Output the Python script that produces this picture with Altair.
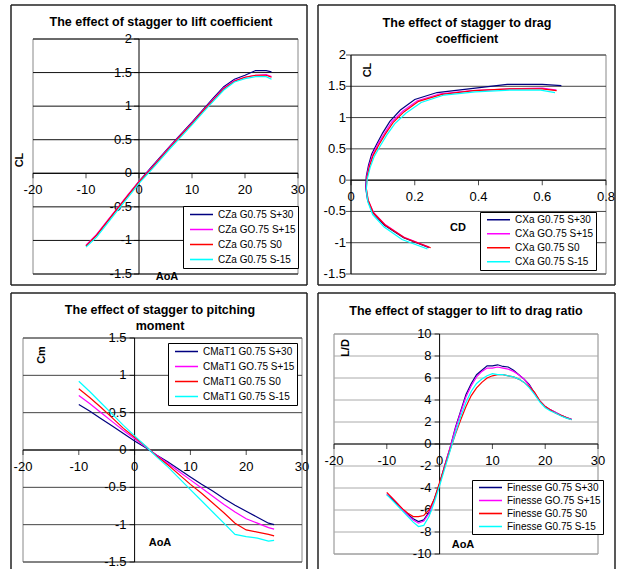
import altair as alt
import pandas as pd

FONT = "Liberation Sans"
COLORS = ["#000080", "#FF00FF", "#FF0000", "#00FFFF"]

LEGEND_CL = ["CZa G0.75 S+30", "CZa GO.75 S+15", "CZa G0.75 S0", "CZa G0.75 S-15"]
LEGEND_CD = ["CXa G0.75 S+30", "CXa GO.75 S+15", "CXa G0.75 S0", "CXa G0.75 S-15"]
LEGEND_CM = ["CMaT1 G0.75 S+30", "CMaT1 GO.75 S+15", "CMaT1 G0.75 S0", "CMaT1 G0.75 S-15"]
LEGEND_LD = ["Finesse G0.75 S+30", "Finesse GO.75 S+15", "Finesse G0.75 S0", "Finesse G0.75 S-15"]

# angle of attack samples
AOA = [-10, -8, -6, -4, -2, 0, 2, 4, 6, 8, 10, 12, 14, 16, 18, 20, 22, 24, 25]

# lift coefficient
CL_S30 = [-1.08, -0.92, -0.72, -0.52, -0.32, -0.12, 0.06, 0.24, 0.42, 0.59, 0.76, 0.94, 1.12, 1.29, 1.40, 1.46, 1.53, 1.53, 1.51]
CL_S15 = [-1.07, -0.91, -0.71, -0.51, -0.31, -0.12, 0.05, 0.23, 0.41, 0.58, 0.75, 0.93, 1.10, 1.27, 1.38, 1.43, 1.46, 1.47, 1.44]
CL_S0 = [-1.08, -0.92, -0.72, -0.52, -0.32, -0.13, 0.04, 0.22, 0.40, 0.57, 0.74, 0.92, 1.09, 1.26, 1.37, 1.43, 1.46, 1.46, 1.43]
CL_SM15 = [-1.10, -0.95, -0.75, -0.55, -0.35, -0.15, 0.02, 0.20, 0.38, 0.55, 0.72, 0.90, 1.07, 1.24, 1.36, 1.41, 1.44, 1.44, 1.40]

# drag coefficient
CD_S30 = [0.245, 0.165, 0.105, 0.068, 0.052, 0.046, 0.048, 0.055, 0.065, 0.082, 0.100, 0.122, 0.155, 0.200, 0.270, 0.370, 0.490, 0.600, 0.660]
CD_S15 = [0.245, 0.165, 0.107, 0.070, 0.053, 0.047, 0.049, 0.057, 0.068, 0.085, 0.105, 0.128, 0.162, 0.208, 0.280, 0.380, 0.500, 0.600, 0.645]
CD_S0 = [0.250, 0.168, 0.108, 0.070, 0.054, 0.048, 0.050, 0.058, 0.070, 0.088, 0.108, 0.132, 0.166, 0.212, 0.285, 0.385, 0.500, 0.600, 0.645]
CD_SM15 = [0.240, 0.160, 0.104, 0.068, 0.053, 0.048, 0.051, 0.060, 0.073, 0.092, 0.112, 0.137, 0.172, 0.220, 0.292, 0.390, 0.500, 0.595, 0.640]

# pitching moment
CM_S30 = [0.61, 0.52, 0.42, 0.32, 0.22, 0.12, 0.03, -0.07, -0.16, -0.26, -0.36, -0.46, -0.55, -0.65, -0.74, -0.82, -0.90, -0.98, -1.00]
CM_S15 = [0.73, 0.62, 0.50, 0.38, 0.26, 0.15, 0.04, -0.075, -0.18, -0.29, -0.40, -0.51, -0.62, -0.73, -0.83, -0.92, -0.98, -1.04, -1.06]
CM_S0 = [0.82, 0.70, 0.57, 0.43, 0.29, 0.17, 0.05, -0.085, -0.20, -0.33, -0.46, -0.58, -0.71, -0.84, -0.98, -1.07, -1.10, -1.13, -1.15]
CM_SM15 = [0.92, 0.78, 0.63, 0.48, 0.33, 0.19, 0.05, -0.095, -0.23, -0.38, -0.53, -0.68, -0.83, -0.98, -1.13, -1.16, -1.18, -1.22, -1.21]

# lift to drag ratio (1 degree samples)
AOA_LD = [-10, -9, -8, -7, -6, -5, -4, -3, -2, -1, 0, 1, 2, 3, 4, 5, 6, 7, 8, 9, 10, 11, 12,
          13, 14, 15, 16, 17, 18, 19, 20, 21, 22, 23, 24, 25]
LD_S30 = [-4.6, -5.0, -5.5, -6.0, -6.4, -6.8, -7.05, -6.9, -6.2, -5.0, -3.6, -1.9, -0.3, 1.5, 3.0, 4.5, 5.5, 6.3,
          6.7, 7.1, 7.1, 7.2, 7.05, 7.0, 6.7, 6.3, 5.9, 5.4, 4.6, 3.9, 3.4, 3.1, 2.85, 2.6, 2.4, 2.25]
LD_S15 = [-4.5, -4.9, -5.4, -6.0, -6.5, -6.9, -7.2, -7.0, -6.3, -5.1, -3.6, -1.9, -0.3, 1.4, 2.9, 4.3, 5.3, 6.1,
          6.6, 6.9, 6.9, 7.0, 6.9, 6.8, 6.6, 6.3, 5.9, 5.3, 4.6, 3.9, 3.4, 3.1, 2.85, 2.6, 2.4, 2.25]
LD_S0 = [-4.4, -4.9, -5.4, -5.9, -6.3, -6.6, -6.6, -6.5, -6.0, -5.0, -3.5, -2.0, -0.5, 0.9, 2.2, 3.4, 4.4, 5.1,
         5.6, 6.0, 6.2, 6.3, 6.3, 6.2, 6.1, 5.9, 5.6, 5.2, 4.7, 3.9, 3.4, 3.1, 2.8, 2.6, 2.4, 2.2]
LD_SM15 = [-4.6, -5.1, -5.6, -6.1, -6.6, -7.1, -7.5, -7.4, -6.6, -5.3, -3.8, -2.2, -0.6, 1.0, 2.5, 3.8, 4.8, 5.5,
           5.9, 6.2, 6.4, 6.3, 6.3, 6.2, 6.1, 5.9, 5.6, 5.1, 4.5, 3.8, 3.3, 3.0, 2.8, 2.55, 2.35, 2.2]

X_TICKS_AOA = [-20, -10, 0, 10, 20, 30]
Y_TICKS_CL = [-1.5, -1, -0.5, 0, 0.5, 1, 1.5, 2]
X_TICKS_CD = [0, 0.2, 0.4, 0.6, 0.8]
Y_TICKS_CM = [-1.5, -1, -0.5, 0, 0.5, 1, 1.5]
Y_TICKS_LD = [-10, -8, -6, -4, -2, 0, 2, 4, 6, 8, 10]

TOTAL_W, TOTAL_H = 618, 569


def long_df(x_vals, labels, series, y_name, extra=None):
    rows = []
    for lab, ys, ex in zip(labels, series, extra or [None] * len(labels)):
        for i, (x, y) in enumerate(zip(x_vals, ys)):
            r = {"AoA": x, y_name: y, "series": lab}
            if ex is not None:
                r["CD"] = ex[i]
            rows.append(r)
    return pd.DataFrame(rows)


def one_row():
    return alt.Data(values=[{"k": 0}])


def panel(df, xf, yf, labels, xticks, yticks, origin, size, box, title, title_pos,
          xtitle, xtitle_pos, ytitle, ytitle_pos, legend_pos, legend_row, grid_color,
          ylab_dx=-7, bottom_border=True, ordered=False):
    ox, oy = origin
    W, H = size
    px0, px1, py0, py1 = [v + o for v, o in zip(box, (ox, ox, oy, oy))]
    xdom = [xticks[0], xticks[-1]]
    ydom = [yticks[0], yticks[-1]]
    xs = alt.Scale(domain=xdom, range=[px0, px1], nice=False, zero=False)
    ys = alt.Scale(domain=ydom, range=[py1, py0], nice=False, zero=False)

    def X(f):
        return alt.X(f, scale=xs, axis=None)

    def Y(f):
        return alt.Y(f, scale=ys, axis=None)

    frame_df = pd.DataFrame({"x0": [xdom[0]], "x1": [xdom[1]], "y0": [ydom[0]],
                             "y1": [ydom[1]], "zero": [0]})
    frame = alt.Chart(frame_df).mark_rect(filled=False, stroke="#888888", strokeWidth=1).encode(
        x=X("x0:Q"), x2="x1:Q", y=Y("y0:Q"), y2="y1:Q")
    grid_df = pd.DataFrame({"v": yticks, "x0": xdom[0], "x1": xdom[1]})
    grid = alt.Chart(grid_df).mark_rule(color=grid_color, strokeWidth=1).encode(
        y=Y("v:Q"), x=X("x0:Q"), x2="x1:Q")

    # axes crossing at zero (Excel style)
    x_line = alt.Chart(frame_df).mark_rule(color="black", strokeWidth=1).encode(
        x=X("x0:Q"), x2="x1:Q", y=Y("zero:Q"))
    y_line = alt.Chart(frame_df).mark_rule(color="black", strokeWidth=1).encode(
        y=Y("y0:Q"), y2="y1:Q", x=X("zero:Q"))
    xt_df = pd.DataFrame({"v": xticks, "lab": [f"{v:g}" for v in xticks], "zero": 0})
    yt_df = pd.DataFrame({"v": yticks, "lab": [f"{v:g}" for v in yticks], "zero": 0})
    x_tk = alt.Chart(xt_df).mark_tick(orient="vertical", size=5, thickness=1, color="black",
                                      yOffset=2.5).encode(x=X("v:Q"), y=Y("zero:Q"))
    y_tk = alt.Chart(yt_df).mark_tick(orient="horizontal", size=5, thickness=1, color="black",
                                      xOffset=-2.5).encode(y=Y("v:Q"), x=X("zero:Q"))
    x_lab = alt.Chart(xt_df).mark_text(font=FONT, fontSize=13, color="black", align="center",
                                       baseline="middle", dy=17).encode(
        x=X("v:Q"), y=Y("zero:Q"), text="lab:N")
    y_lab = alt.Chart(yt_df).mark_text(font=FONT, fontSize=13, color="black", align="right",
                                       baseline="middle", dx=ylab_dx).encode(
        y=Y("v:Q"), x=X("zero:Q"), text="lab:N")

    enc = dict(
        x=X(f"{xf}:Q"),
        y=Y(f"{yf}:Q"),
        color=alt.Color("series:N", scale=alt.Scale(domain=labels, range=COLORS),
                        legend=alt.Legend(
                            orient="none", legendX=legend_pos[0] + ox, legendY=legend_pos[1] + oy,
                            title=None, symbolType="stroke", symbolSize=529,
                            symbolStrokeWidth=1.6, labelFont=FONT, labelFontSize=10,
                            labelColor="black", labelLimit=300, strokeColor="black",
                            fillColor="white", padding=2, rowPadding=2, clipHeight=legend_row,
                            labelOffset=4, symbolOffset=4)),
    )
    if ordered:
        enc["order"] = alt.Order("AoA:Q")
    lines = alt.Chart(df).mark_line(strokeWidth=1.2).encode(**enc)

    title_mark = alt.Chart(one_row()).mark_text(
        font=FONT, fontSize=12.5, fontWeight="bold", align="center", baseline="top",
        lineHeight=16, color="black").encode(
        x=alt.value(title_pos[0] + ox), y=alt.value(title_pos[1] + oy), text=alt.value(title))
    xt = alt.Chart(one_row()).mark_text(
        font=FONT, fontSize=11, fontWeight="bold", align="center", baseline="middle",
        color="black").encode(
        x=alt.value(xtitle_pos[0] + ox), y=alt.value(xtitle_pos[1] + oy), text=alt.value(xtitle))
    yt = alt.Chart(one_row()).mark_text(
        font=FONT, fontSize=11, fontWeight="bold", align="center", baseline="middle",
        angle=270, color="black").encode(
        x=alt.value(ytitle_pos[0] + ox), y=alt.value(ytitle_pos[1] + oy), text=alt.value(ytitle))

    bw = 1.5
    bc = "#222222"
    borders = [
        alt.Chart(one_row()).mark_rule(color=bc, strokeWidth=bw).encode(
            x=alt.value(ox), y=alt.value(oy), y2=alt.value(oy + H)),
        alt.Chart(one_row()).mark_rule(color=bc, strokeWidth=bw).encode(
            x=alt.value(ox + W), y=alt.value(oy), y2=alt.value(oy + H)),
        alt.Chart(one_row()).mark_rule(color=bc, strokeWidth=bw).encode(
            y=alt.value(oy), x=alt.value(ox), x2=alt.value(ox + W)),
    ]
    if bottom_border:
        borders.append(alt.Chart(one_row()).mark_rule(color=bc, strokeWidth=bw).encode(
            y=alt.value(oy + H), x=alt.value(ox), x2=alt.value(ox + W)))

    return alt.layer(frame, grid, x_line, y_line, x_tk, y_tk, x_lab, y_lab, lines,
                     title_mark, xt, yt, *borders)


df_cl = long_df(AOA, LEGEND_CL, [CL_S30, CL_S15, CL_S0, CL_SM15], "CL")
df_cd = long_df(AOA, LEGEND_CD, [CL_S30, CL_S15, CL_S0, CL_SM15], "CL",
                extra=[CD_S30, CD_S15, CD_S0, CD_SM15])
df_cm = long_df(AOA, LEGEND_CM, [CM_S30, CM_S15, CM_S0, CM_SM15], "Cm")
df_ld = long_df(AOA_LD, LEGEND_LD, [LD_S30, LD_S15, LD_S0, LD_SM15], "LD")

p1 = panel(df_cl, "AoA", "CL", LEGEND_CL, X_TICKS_AOA, Y_TICKS_CL,
           (11, 5), (296, 280), (22, 287, 34, 269),
           "The effect of stagger to lift coefficient", (150, 11),
           "AoA", (156, 272), "CL", (9, 155), (172, 201), 13, "#111111")
p2 = panel(df_cd, "CD", "CL", LEGEND_CD, X_TICKS_CD, Y_TICKS_CL,
           (318, 5), (297, 280), (33, 288, 50, 269),
           ["The effect of stagger to drag", "coefficient"], (149, 12),
           "CD", (140, 223), "CL", (50, 65), (162, 207), 11.5, "#444444",
           ylab_dx=-5, ordered=True)
p3 = panel(df_cm, "AoA", "Cm", LEGEND_CM, X_TICKS_AOA, Y_TICKS_CM,
           (11, 293), (296, 276), (12, 291, 45, 269),
           ["The effect of stagger to pitching", "moment"], (149, 11),
           "AoA", (149, 250), "Cm", (31, 62), (157, 50), 13, "#444444",
           ylab_dx=-8, bottom_border=False)
p4 = panel(df_ld, "AoA", "LD", LEGEND_LD, X_TICKS_AOA, Y_TICKS_LD,
           (318, 293), (297, 276), (16, 280, 41, 261),
           "The effect of stagger to lift to drag ratio", (148, 12),
           "AoA", (145, 252), "L/D", (28, 55), (154, 187), 11, "#aaaaaa",
           ylab_dx=-8, bottom_border=False)

chart = alt.layer(p1, p2, p3, p4).resolve_scale(
    x="independent", y="independent", color="independent"
).resolve_legend(color="independent").properties(
    width=TOTAL_W, height=TOTAL_H, padding=0, background="white",
    autosize=alt.AutoSizeParams(type="none"),
).configure_view(stroke=None)

chart.save("out.html", embed_options={"renderer": "svg", "actions": False})
